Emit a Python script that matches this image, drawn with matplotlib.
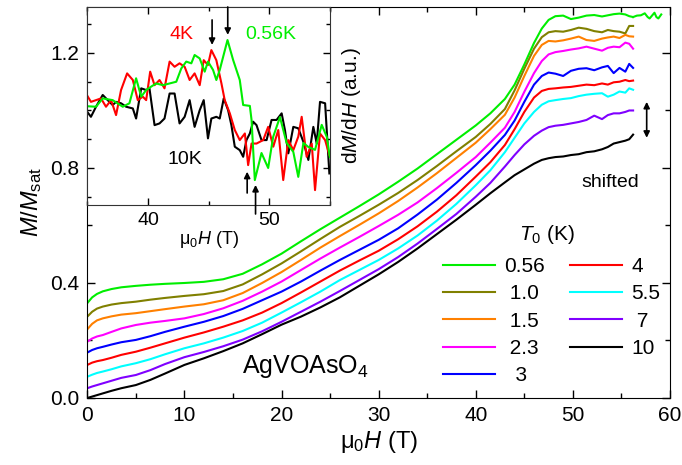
import numpy as np
import matplotlib
matplotlib.use("Agg")
import matplotlib.pyplot as plt
from matplotlib.lines import Line2D
from matplotlib.ticker import MultipleLocator, FormatStrFormatter

plt.rcParams['font.family'] = ['Liberation Sans', 'DejaVu Sans']
plt.rcParams['mathtext.fontset'] = 'custom'
plt.rcParams['mathtext.rm'] = 'Liberation Sans'
plt.rcParams['mathtext.it'] = 'Liberation Sans:italic'
plt.rcParams['mathtext.bf'] = 'Liberation Sans:bold'

# ---- main panel data: M/Msat vs field (curves shifted) ----
field = [0, 0.5, 1, 1.6, 2.5, 3.5, 5, 6.5, 8, 10, 12, 14, 16, 18, 20, 22, 24, 26, 28, 30,
         32, 34, 36, 38, 40, 41.5, 43, 44, 45, 46, 46.8, 47.5, 48.2, 49, 49.8, 50.6, 51.4,
         52.2, 53, 53.6, 54.2, 54.8, 55.4, 55.8, 56.2]

m_056 = [.330, .350, .362, .371, .379, .385, .390, .394, .397, .400, .404, .413, .432, .465,
         .502, .545, .587, .627, .667, .708, .752, .798, .848, .898, .948, .990, 1.040, 1.09,
         1.16, 1.235, 1.285, 1.315, 1.328, 1.330, 1.318, 1.323, 1.330, 1.332, 1.327, 1.331,
         1.335, 1.337, 1.334, 1.328, 1.325]
tail_field_056 = [56.6, 57.0, 57.4, 57.7, 57.9, 58.2, 58.4, 58.6, 58.8, 59.1]
tail_m_056 = [1.330, 1.331, 1.338, 1.325, 1.320, 1.332, 1.340, 1.325, 1.320, 1.334]

m_10 = [.283, .300, .311, .318, .325, .330, .335, .342, .348, .355, .361, .372, .395, .430,
        .468, .510, .553, .595, .633, .672, .713, .758, .807, .858, .908, .953, 1.005, 1.070,
        1.145, 1.215, 1.255, 1.272, 1.276, 1.274, 1.280, 1.288, 1.284, 1.276, 1.272, 1.280,
        1.276, 1.274, 1.268, 1.294, 1.294]

m_15 = [.239, .258, .270, .277, .284, .290, .295, .302, .309, .318, .326, .340, .365, .400,
        .438, .480, .523, .563, .602, .642, .685, .732, .782, .835, .888, .935, .985, 1.045,
        1.120, 1.190, 1.228, 1.242, 1.240, 1.244, 1.250, 1.257, 1.245, 1.242, 1.250, 1.254,
        1.257, 1.252, 1.263, 1.258, 1.257]

m_23 = [.196, .207, .214, .219, .230, .242, .254, .262, .268, .277, .292, .312, .338, .370,
        .405, .445, .485, .523, .560, .598, .637, .680, .730, .783, .838, .888, .940, .995,
        1.065, 1.130, 1.172, 1.195, 1.203, 1.207, 1.212, 1.216, 1.222, 1.215, 1.208, 1.218,
        1.222, 1.220, 1.236, 1.232, 1.215]

m_3 = [.158, .167, .173, .178, .186, .194, .202, .215, .230, .248, .265, .285, .310, .340,
       .370, .405, .443, .480, .515, .550, .590, .638, .690, .748, .810, .860, .915, .965,
       1.030, 1.090, 1.120, 1.132, 1.128, 1.120, 1.138, 1.145, 1.147, 1.140, 1.150, 1.155,
       1.130, 1.148, 1.135, 1.162, 1.148]

m_4 = [.115, .123, .128, .132, .140, .150, .161, .175, .190, .210, .228, .248, .270, .297,
       .330, .367, .405, .443, .478, .512, .552, .597, .648, .705, .770, .820, .880, .935,
       .995, 1.045, 1.068, 1.075, 1.077, 1.080, 1.082, 1.086, 1.090, 1.088, 1.094, 1.090,
       1.098, 1.100, 1.106, 1.102, 1.104]

m_55 = [.074, .081, .087, .092, .100, .110, .121, .135, .152, .173, .190, .210, .233, .262,
        .297, .333, .370, .410, .445, .480, .520, .565, .617, .675, .740, .792, .855, .905,
        .955, .995, 1.020, 1.032, 1.036, 1.040, 1.043, 1.050, 1.055, 1.058, 1.060, 1.048,
        1.055, 1.066, 1.062, 1.077, 1.072]

m_7 = [.034, .040, .045, .051, .060, .070, .080, .097, .118, .142, .160, .180, .203, .232,
       .265, .300, .335, .372, .410, .448, .490, .537, .588, .640, .700, .748, .805, .845,
       .882, .912, .930, .942, .947, .950, .955, .960, .967, .982, .970, .984, .990, .990,
       .995, 1.000, 1.000]

m_10K = [0, .005, .010, .016, .025, .034, .045, .063, .085, .115, .138, .163, .190, .222,
         .255, .283, .315, .350, .390, .430, .473, .520, .570, .620, .672, .712, .750, .775,
         .795, .815, .828, .834, .838, .840, .845, .848, .855, .858, .865, .873, .885, .890,
         .895, .900, .916]

labels = ['0.56', ' 1.0', ' 1.5', ' 2.3', '  3', '4', '5.5', ' 7', '10']
colors = ['#00ee00', '#808000', '#ff8000', '#ff00ff', '#0000ff', '#ff0000', '#00ffff',
          '#8000ff', '#000000']
curves = [m_056, m_10, m_15, m_23, m_3, m_4, m_55, m_7, m_10K]

# ---- inset data: dM/dH (a.u.) ----
h_056 = [34.89, 35.72, 36.27, 37.09, 37.92, 38.47, 39.02, 39.44, 39.85, 40.26, 40.67, 41.23,
         41.78, 42.33, 42.74, 43.15, 43.57, 43.84, 44.26, 44.67, 44.94, 45.36, 45.63, 45.91,
         46.55, 47.01, 47.56, 47.84, 48.39, 48.53, 48.80, 49.35, 49.90, 50.31, 50.87, 51.42,
         51.97, 52.38, 52.80, 53.21, 53.76, 54.31, 54.73, 54.98]
d_056 = [1.015, 1.013, 1.042, 1.036, 1.013, 1.025, 1.112, 1.048, 1.071, 1.083, 1.094, 1.088,
         1.094, 1.100, 1.146, 1.170, 1.164, 1.193, 1.181, 1.135, 1.170, 1.141, 1.106, 1.141,
         1.245, 1.176, 1.106, 1.019, 1.016, 0.967, 0.758, 0.852, 0.800, 0.908, 0.977, 0.887,
         0.856, 0.769, 0.887, 0.873, 0.863, 0.950, 0.908, 0.838]

h_4 = [34.89, 35.30, 35.72, 36.13, 36.54, 36.96, 37.37, 37.78, 38.28, 38.75, 39.16, 39.57,
       39.85, 40.18, 40.54, 40.95, 41.36, 41.78, 42.19, 42.60, 43.02, 43.43, 43.84, 44.26,
       44.59, 44.94, 45.22, 45.63, 46.05, 46.32, 46.74, 47.15, 47.56, 47.98, 48.25, 48.53,
       48.94, 49.49, 49.90, 50.32, 50.73, 51.14, 51.56, 51.97, 52.38, 52.66, 53.07, 53.49,
       53.76, 54.17, 54.59, 54.94]
d_4 = [1.059, 1.030, 1.036, 1.042, 1.013, 1.036, 0.984, 1.071, 1.129, 1.106, 1.036, 1.048,
       1.036, 1.135, 1.088, 1.106, 1.077, 1.170, 1.152, 1.164, 1.152, 1.106, 1.129, 1.088,
       1.175, 1.158, 1.210, 1.175, 1.094, 1.036, 0.990, 0.932, 0.897, 0.920, 0.810, 0.885,
       0.885, 0.897, 0.943, 0.874, 0.932, 0.758, 0.897, 0.862, 0.909, 0.978, 0.839, 0.885,
       0.723, 0.920, 0.897, 0.845]

h_10 = [34.89, 35.30, 35.72, 36.27, 36.68, 37.09, 37.37, 37.78, 38.20, 38.75, 39.02, 39.44,
        39.85, 40.12, 40.54, 40.95, 41.36, 41.78, 42.19, 42.60, 43.02, 43.43, 43.84, 44.26,
        44.59, 44.94, 45.22, 45.63, 45.91, 46.24, 46.60, 46.87, 47.15, 47.56, 47.84, 48.11,
        48.39, 48.66, 48.94, 49.35, 49.77, 50.18, 50.59, 51.01, 51.28, 51.56, 51.97, 52.38,
        52.80, 53.21, 53.62, 53.90, 54.17, 54.59, 54.94]
d_10 = [1.001, 0.978, 1.013, 1.054, 1.036, 1.019, 1.030, 1.025, 1.013, 1.007, 0.972, 1.077,
        1.071, 1.077, 0.949, 0.955, 0.972, 1.059, 1.059, 0.955, 0.978, 1.036, 0.943, 1.001,
        1.036, 0.903, 0.972, 0.978, 0.972, 1.042, 1.001, 0.949, 0.874, 0.862, 0.839, 0.897,
        0.920, 0.961, 0.949, 0.897, 0.897, 0.967, 0.967, 0.990, 0.932, 0.851, 0.943, 0.938,
        0.891, 0.828, 0.943, 0.885, 1.030, 1.025, 0.781]

fig = plt.figure(figsize=(6.82, 4.65), dpi=100)
ax = fig.add_axes([0.128, 0.1441, 0.8544, 0.8409])

for m, c in zip(curves, colors):
    ax.plot(field, m, color=c, lw=1.5)
ax.plot([field[-1]] + tail_field_056, [m_056[-1]] + tail_m_056, color=colors[0], lw=1.5)

ax.set_xlim(0, 60)
ax.set_ylim(0, 1.36)
ax.xaxis.set_major_locator(MultipleLocator(10))
ax.xaxis.set_minor_locator(MultipleLocator(5))
ax.yaxis.set_major_locator(MultipleLocator(0.4))
ax.yaxis.set_minor_locator(MultipleLocator(0.2))
ax.yaxis.set_major_formatter(FormatStrFormatter('%.1f'))
ax.tick_params(which='both', direction='in', top=True, right=True, labelsize=15, width=1)
ax.tick_params(which='major', length=6, pad=6)
ax.tick_params(which='minor', length=3.5)
ax.set_xlabel('\u03bc$_0$$H$ (T)', fontsize=17, labelpad=3)
ax.set_ylabel('$M$/$M_\\mathrm{sat}$', fontsize=17, labelpad=4)

ax.text(15.9, 0.108, 'AgVOAsO$_4$', fontsize=18, ha='left', va='center')
ax.text(53.8, 0.751, 'shifted', fontsize=14, ha='center', va='center')
ax.annotate('', xy=(57.6, 1.03), xytext=(57.6, 0.905),
            arrowprops=dict(arrowstyle='<|-|>', color='k', lw=1.2, mutation_scale=9,
                            shrinkA=0, shrinkB=0))

handles = [Line2D([], [], color=c, lw=1.5) for c in colors]
leg = ax.legend(handles, labels, ncol=2, loc='upper left', bbox_to_anchor=(0.585, 0.398),
                frameon=False, fontsize=15, handlelength=2.5, handletextpad=0.45,
                columnspacing=1.2, labelspacing=0.4, borderpad=0.2)
ax.text(0.789, 0.417, '$T_0$ (K)', transform=ax.transAxes, fontsize=15,
        ha='center', va='center')

# ---- inset ----
axi = fig.add_axes([0.128, 0.559, 0.356, 0.426])
axi.set_facecolor('white')
axi.plot(h_10, d_10, color='k', lw=1.5)
axi.plot(h_4, d_4, color='#ff0000', lw=1.5)
axi.plot(h_056, d_056, color='#00ee00', lw=1.5)
axi.set_xlim(35, 55)
axi.set_ylim(0.671, 1.36)
axi.xaxis.set_major_locator(MultipleLocator(10))
axi.xaxis.set_minor_locator(MultipleLocator(5))
axi.yaxis.set_major_locator(MultipleLocator(0.4))
axi.yaxis.set_minor_locator(MultipleLocator(0.1))
axi.tick_params(which='both', direction='in', top=True, right=True, labelsize=14, width=1)
axi.tick_params(which='major', length=5, pad=5)
axi.tick_params(which='minor', length=3)
axi.tick_params(axis='y', labelleft=False)
for s in axi.spines.values():
    s.set_color('#333333')
axi.set_xlabel('\u03bc$_0$$H$ (T)', fontsize=13, labelpad=0)
axi.yaxis.set_label_position('right')
axi.set_ylabel('d$M$/d$H$ (a.u.)', fontsize=15, labelpad=7)

axi.text(42.8, 1.263, '4K', color='#ff0000', fontsize=14, ha='center', va='center')
axi.text(50.1, 1.263, '0.56K', color='#00ee00', fontsize=14, ha='center', va='center')
axi.text(43.0, 0.828, '10K', color='k', fontsize=14, ha='center', va='center')

arrow_kw = dict(arrowstyle='-|>', color='k', lw=1.2, mutation_scale=9, shrinkA=0, shrinkB=0)
axi.annotate('', xy=(45.28, 1.228), xytext=(45.28, 1.315), arrowprops=arrow_kw)
axi.annotate('', xy=(46.57, 1.263), xytext=(46.57, 1.36), arrowprops=arrow_kw)
axi.annotate('', xy=(48.17, 0.787), xytext=(48.17, 0.713), arrowprops=arrow_kw)
axi.annotate('', xy=(48.86, 0.741), xytext=(48.86, 0.64), arrowprops=arrow_kw,
             annotation_clip=False)

fig.savefig('out.png', dpi=100)
